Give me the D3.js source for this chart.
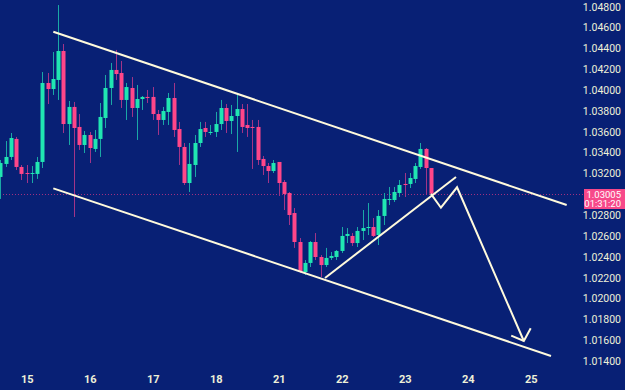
<!DOCTYPE html>
<html>
<head>
<meta charset="utf-8">
<script src="https://cdn.jsdelivr.net/npm/d3@7/dist/d3.min.js"></script>
<style>
  html, body { margin: 0; padding: 0; background: #082075; }
  svg { display: block; }
  .tick text { font-family: Roboto, "Liberation Sans", sans-serif; fill: #eef0d8; }
</style>
</head>
<body>
<svg id="chart" width="625" height="390"></svg>
<script>
// 2h candles, bar index 0..82 (bar 5 = first bar of the 15th)
const dayLabels = ["15", "16", "17", "18", "21", "22", "23", "24", "25"];
const dayBars = [5, 17, 29, 41, 53, 65, 77, 89, 101];

const opens = [1.03166, 1.03291, 1.03358, 1.03531, 1.03262, 1.03204, 1.03195, 1.03195, 1.03310, 1.04068,
  1.04010, 1.04097, 1.04375, 1.03674, 1.03838, 1.03646, 1.03473, 1.03569, 1.03435, 1.03531,
  1.03732, 1.04020, 1.04193, 1.04164, 1.03905, 1.04020, 1.03828, 1.03914, 1.03934, 1.03934,
  1.03770, 1.03713, 1.03790, 1.03924, 1.03626, 1.03454, 1.03108, 1.03281, 1.03492, 1.03636,
  1.03588, 1.03598, 1.03674, 1.03828, 1.03703, 1.03751, 1.03818, 1.03665, 1.03646, 1.03646,
  1.03339, 1.03271, 1.03223, 1.03310, 1.03118, 1.03012, 1.02820, 1.02542, 1.02254, 1.02341,
  1.02542, 1.02398, 1.02321, 1.02389, 1.02398, 1.02456, 1.02600, 1.02600, 1.02532, 1.02648,
  1.02676, 1.02686, 1.02609, 1.02792, 1.02945, 1.02945, 1.03012, 1.03099, 1.03099, 1.03147,
  1.03262, 1.03435, 1.03252];
const highs = [1.03329, 1.03511, 1.03588, 1.03550, 1.03281, 1.03281, 1.03271, 1.03358, 1.04173, 1.04164,
  1.04365, 1.04816, 1.04442, 1.03895, 1.03886, 1.03770, 1.03607, 1.03598, 1.03617, 1.03876,
  1.04145, 1.04260, 1.04385, 1.04279, 1.04068, 1.04125, 1.04049, 1.03943, 1.04001, 1.04029,
  1.03809, 1.03838, 1.03972, 1.04068, 1.03694, 1.03492, 1.03492, 1.03569, 1.03694, 1.03694,
  1.03665, 1.03790, 1.03905, 1.03866, 1.03857, 1.03953, 1.03866, 1.03866, 1.03713, 1.03713,
  1.03367, 1.03300, 1.03329, 1.03310, 1.03137, 1.03022, 1.02868, 1.02580, 1.02369, 1.02551,
  1.02628, 1.02417, 1.02485, 1.02446, 1.02465, 1.02686, 1.02676, 1.02628, 1.02686, 1.02849,
  1.02916, 1.02772, 1.02849, 1.03012, 1.03070, 1.03070, 1.03137, 1.03204, 1.03204, 1.03300,
  1.03492, 1.03444, 1.03252];
const lows = [1.02955, 1.03262, 1.03329, 1.03233, 1.03137, 1.03108, 1.03108, 1.03147, 1.03252, 1.03866,
  1.03953, 1.03905, 1.03588, 1.03473, 1.02782, 1.03425, 1.03396, 1.03300, 1.03406, 1.03358,
  1.03636, 1.03857, 1.04097, 1.03828, 1.03713, 1.03742, 1.03521, 1.03809, 1.03876, 1.03713,
  1.03569, 1.03665, 1.03665, 1.03550, 1.03281, 1.03089, 1.03022, 1.03166, 1.03454, 1.03550,
  1.03569, 1.03550, 1.03617, 1.03588, 1.03578, 1.03406, 1.03588, 1.03550, 1.03243, 1.03281,
  1.03185, 1.03108, 1.03204, 1.02984, 1.02849, 1.02705, 1.02485, 1.02245, 1.02225, 1.02302,
  1.02369, 1.02206, 1.02302, 1.02369, 1.02369, 1.02437, 1.02532, 1.02504, 1.02494, 1.02561,
  1.02609, 1.02590, 1.02513, 1.02705, 1.02897, 1.02926, 1.02974, 1.02974, 1.03060, 1.03108,
  1.03243, 1.02993, 1.02993];
const closes = [1.03300, 1.03358, 1.03540, 1.03262, 1.03195, 1.03195, 1.03204, 1.03310, 1.04068, 1.04010,
  1.04106, 1.04375, 1.03674, 1.03838, 1.03636, 1.03473, 1.03569, 1.03444, 1.03531, 1.03742,
  1.04020, 1.04193, 1.04154, 1.03905, 1.04029, 1.03828, 1.03914, 1.03934, 1.03924, 1.03770,
  1.03713, 1.03799, 1.03924, 1.03617, 1.03454, 1.03108, 1.03291, 1.03492, 1.03626, 1.03598,
  1.03598, 1.03674, 1.03828, 1.03703, 1.03751, 1.03818, 1.03646, 1.03636, 1.03636, 1.03329,
  1.03271, 1.03223, 1.03300, 1.03108, 1.03003, 1.02801, 1.02542, 1.02254, 1.02341, 1.02542,
  1.02398, 1.02321, 1.02389, 1.02408, 1.02456, 1.02600, 1.02619, 1.02532, 1.02648, 1.02676,
  1.02686, 1.02600, 1.02792, 1.02955, 1.02955, 1.03022, 1.03089, 1.03089, 1.03156, 1.03271,
  1.03435, 1.03252, 1.03005];

const priceTicks = [1.048, 1.046, 1.044, 1.042, 1.040, 1.038, 1.036, 1.034, 1.032,
  1.028, 1.026, 1.024, 1.022, 1.020, 1.018, 1.016, 1.014];
const lastPrice = 1.03005;
const countdown = "01:31:20";

// hand-drawn annotations, [bar, price]
const upperChannel = [[10.07, 1.04560], [107.86, 1.02897]];
const lowerChannel = [[10.07, 1.03057], [104.87, 1.01448]];
const supportLine = [[61.82, 1.02197], [86.77, 1.03166]];
const projection = [[82.0, 1.03003], [83.9, 1.02871], [86.97, 1.03067], [99.69, 1.01592]];
const arrowHead = [[97.29, 1.01643], [99.69, 1.01592], [101.0, 1.01714]];

const W = 625, H = 390;
const svg = d3.select('#chart');

const x = d3.scaleLinear().domain([5, 101]).range([26.7, 530.7]);
const y = d3.scaleLinear().domain([1.014, 1.048]).range([361, 6.7]);

const bg = '#082075';
svg.append('rect').attr('width', W).attr('height', H).attr('fill', bg);

const up = '#20e6b2', down = '#ff4689';
const upWick = '#1aa8a6', downWick = '#a23488';

const candles = opens.map((o, i) => ({ i, o, h: highs[i], l: lows[i], c: closes[i] }));

// last price line
svg.append('line')
  .attr('x1', 0).attr('x2', 584)
  .attr('y1', Math.round(y(lastPrice)) + 0.5).attr('y2', Math.round(y(lastPrice)) + 0.5)
  .attr('stroke', '#a03080').attr('stroke-width', 1)
  .attr('stroke-dasharray', '1,2');

const g = svg.append('g');

// wicks
g.selectAll('.wick')
  .data(candles)
  .enter().append('line')
  .attr('class', 'wick')
  .attr('x1', d => Math.round(x(d.i)) + 0.5)
  .attr('x2', d => Math.round(x(d.i)) + 0.5)
  .attr('y1', d => y(d.h))
  .attr('y2', d => y(d.l))
  .attr('stroke', d => d.c >= d.o ? upWick : downWick)
  .attr('stroke-width', 1);

// bodies
g.selectAll('.body')
  .data(candles)
  .enter().append('rect')
  .attr('class', 'body')
  .attr('x', d => Math.round(x(d.i)) - 1.5)
  .attr('width', 4)
  .attr('y', d => y(Math.max(d.o, d.c)))
  .attr('height', d => Math.max(1, Math.abs(y(d.o) - y(d.c))))
  .attr('fill', d => d.c >= d.o ? up : down);

// annotation lines
const line = d3.line().x(d => x(d[0])).y(d => y(d[1]));
const ink = '#fffadc';
[upperChannel, lowerChannel, supportLine, projection, arrowHead].forEach(pts => {
  svg.append('path')
    .attr('d', line(pts))
    .attr('fill', 'none')
    .attr('stroke', ink)
    .attr('stroke-width', 2)
    .attr('stroke-linejoin', 'miter')
    .attr('stroke-linecap', 'butt');
});

// price axis
const yAxis = d3.axisLeft(y)
  .tickValues(priceTicks)
  .tickFormat(d3.format('.5f'))
  .tickSize(0)
  .tickPadding(0);
const ya = svg.append('g')
  .attr('transform', 'translate(621,0)')
  .call(yAxis);
ya.select('.domain').remove();
ya.selectAll('text').attr('font-size', 10.5);

// date axis
const xAxis = d3.axisBottom(x)
  .tickValues(dayBars)
  .tickFormat((d, i) => dayLabels[i])
  .tickSize(0)
  .tickPadding(0);
const xa = svg.append('g')
  .attr('transform', 'translate(0,375)')
  .call(xAxis);
xa.select('.domain').remove();
xa.selectAll('text').attr('font-size', 11).attr('font-weight', 'bold');

// last price tag
const tagY = Math.round(y(lastPrice)) - 5;
svg.append('rect')
  .attr('x', 584).attr('y', tagY)
  .attr('width', 41).attr('height', 20)
  .attr('fill', '#f7498a');
svg.append('text')
  .attr('x', 621).attr('y', tagY + 8.5)
  .attr('text-anchor', 'end')
  .attr('font-family', 'Roboto, sans-serif')
  .attr('font-size', 9.5)
  .attr('fill', '#ffffff')
  .text(d3.format('.5f')(lastPrice));
svg.append('text')
  .attr('x', 621).attr('y', tagY + 18)
  .attr('text-anchor', 'end')
  .attr('font-family', 'Roboto, sans-serif')
  .attr('font-size', 9.5)
  .attr('fill', '#ffffff')
  .text(countdown);
</script>
</body>
</html>
